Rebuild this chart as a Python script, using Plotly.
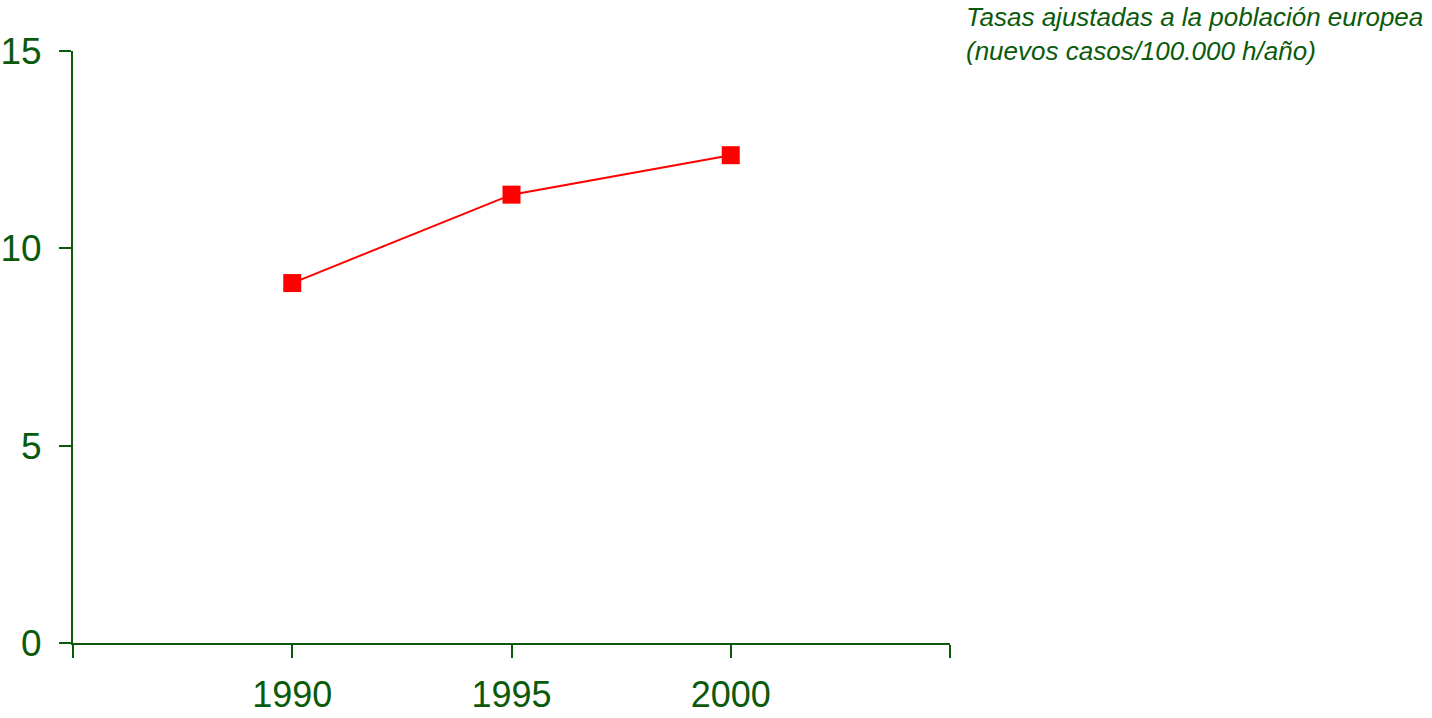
import plotly.graph_objects as go

years = ["1990", "1995", "2000"]
rates = [9.12, 11.36, 12.36]
x_pos = [1, 2, 3]
y_ticks = [0, 5, 10, 15]

green = "#0b5a0b"

fig = go.Figure()
fig.add_trace(go.Scatter(
    x=x_pos, y=rates, mode="lines+markers",
    line=dict(color="#ff0000", width=2),
    marker=dict(symbol="square", size=18, color="#ff0000"),
    showlegend=False, cliponaxis=False,
))

fig.update_layout(
    width=1432, height=718,
    margin=dict(l=73, r=482, t=51, b=75, autoexpand=False),
    paper_bgcolor="white", plot_bgcolor="white",
    font=dict(family="Liberation Sans, Arial, sans-serif", color=green),
    xaxis=dict(
        range=[0, 4], tickvals=[0, 1, 2, 3, 4],
        ticktext=["", years[0], years[1], years[2], ""],
        showgrid=False, zeroline=False, showline=True, linecolor=green, linewidth=2,
        ticks="outside", ticklen=13, tickwidth=2, tickcolor=green,
        tickfont=dict(size=36, color=green), ticklabelstandoff=6,
        automargin=False,
    ),
    yaxis=dict(
        range=[0, 15], tickvals=y_ticks,
        showgrid=False, zeroline=False, showline=True, linecolor=green, linewidth=2,
        ticks="outside", ticklen=12, tickwidth=2, tickcolor=green,
        tickfont=dict(size=37, color=green), ticklabelstandoff=10,
        automargin=False,
    ),
    annotations=[dict(
        text="Tasas ajustadas a la población europea<br>(nuevos casos/100.000 h/año)",
        xref="paper", yref="paper", x=1.0, y=1.0,
        xshift=14, yshift=51, xanchor="left", yanchor="top", align="left",
        showarrow=False,
        font=dict(size=26, color=green, family="Liberation Sans, Arial, sans-serif", style="italic"),
    )],
)

fig.write_html(
    "out.html",
    config={"displayModeBar": False},
    post_script="document.body.style.margin='0';document.body.style.overflow='hidden';",
)
